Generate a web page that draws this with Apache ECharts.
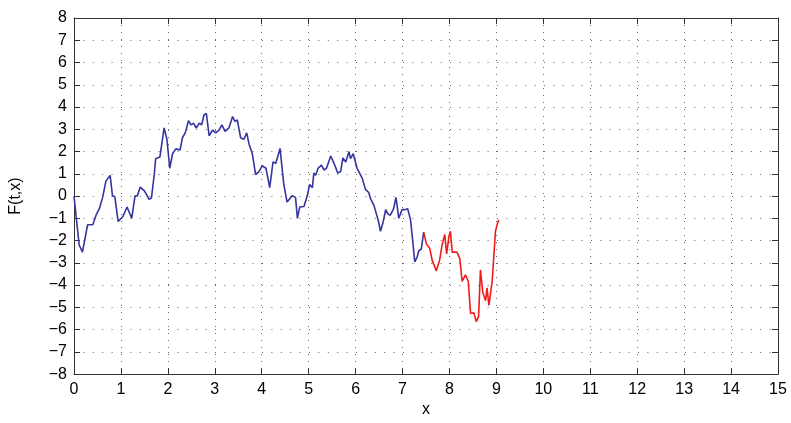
<!DOCTYPE html>
<html><head><meta charset="utf-8">
<script src="https://cdn.jsdelivr.net/npm/echarts@6/dist/echarts.min.js"></script>
<style>html,body{margin:0;padding:0;background:#fff}#c{width:791px;height:423px}</style>
</head><body><div id="c"></div>
<script>
const xBlue = [0.00,0.11,0.18,0.29,0.40,0.47,0.54,0.61,0.68,0.77,0.82,0.87,0.94,1.04,1.13,1.23,1.30,1.35,1.41,1.50,1.60,1.65,1.71,1.74,1.78,1.83,1.92,1.98,2.04,2.10,2.17,2.26,2.31,2.37,2.44,2.49,2.55,2.60,2.67,2.72,2.77,2.82,2.88,2.95,3.02,3.09,3.15,3.22,3.30,3.38,3.43,3.48,3.55,3.62,3.68,3.73,3.80,3.87,3.94,4.01,4.09,4.17,4.24,4.30,4.39,4.47,4.54,4.65,4.72,4.76,4.81,4.90,4.97,5.02,5.08,5.11,5.15,5.20,5.27,5.33,5.38,5.47,5.54,5.62,5.68,5.73,5.79,5.86,5.89,5.95,6.03,6.14,6.21,6.28,6.32,6.39,6.43,6.48,6.53,6.59,6.64,6.69,6.74,6.81,6.86,6.92,6.99,7.06,7.11,7.17,7.21,7.26,7.31,7.35,7.40,7.45];
const yBlue = [0.00,-2.20,-2.52,-1.29,-1.29,-0.86,-0.57,-0.06,0.67,0.93,0.01,-0.03,-1.14,-0.93,-0.49,-1.00,0.01,0.00,0.40,0.23,-0.15,-0.09,0.96,1.68,1.70,1.75,3.06,2.55,1.25,1.90,2.12,2.07,2.62,2.84,3.39,3.20,3.27,3.06,3.27,3.20,3.64,3.71,2.70,2.96,2.84,2.96,3.20,2.91,3.06,3.57,3.35,3.42,2.62,2.55,2.84,2.33,1.90,0.96,1.10,1.36,1.25,0.38,1.53,1.47,2.14,0.52,-0.27,0.01,-0.06,-1.00,-0.49,-0.47,0.01,0.52,0.38,1.03,0.93,1.25,1.39,1.17,1.25,1.80,1.47,1.03,1.10,1.71,1.53,2.00,1.68,1.90,1.25,0.81,0.30,0.16,-0.13,-0.42,-0.35,-1.07,-1.58,-1.14,-0.61,-0.81,-0.86,-0.57,-0.06,-1.00,-0.61,-0.61,-0.57,-1.07,-1.87,-2.96,-2.74,-2.45,-2.38,-1.62];
const xRed = [7.45,7.51,7.58,7.63,7.72,7.79,7.84,7.90,7.94,7.99,8.02,8.06,8.16,8.22,8.27,8.34,8.40,8.45,8.52,8.57,8.62,8.66,8.71,8.77,8.80,8.84,8.91,8.98,9.02,9.05];
const yRed = [-1.62,-2.16,-2.35,-2.88,-3.36,-2.88,-2.23,-1.73,-2.60,-1.80,-1.58,-2.52,-2.52,-2.81,-3.83,-3.54,-3.83,-5.28,-5.25,-5.64,-5.42,-3.32,-4.33,-4.70,-4.12,-4.91,-3.83,-1.58,-1.25,-1.07];
const xTicks = [0,15,1];
const yTicks = [-8,8,1];

const font = 'Liberation Sans, Arial, Helvetica, sans-serif';
const vGrid = {show:true, lineStyle:{color:'#666', type:[1,6], width:1}};
const hGrid = {show:true, lineStyle:{color:'#666', type:[1,8.4], width:1}};
const axLine = {show:true, onZero:false, lineStyle:{color:'#333', width:1}};
const tick = {show:true, inside:true, length:6, lineStyle:{color:'#333'}};
const chart = echarts.init(document.getElementById('c'));
chart.setOption({
  animation:false,
  grid:{left:73, right:13, top:18, bottom:37, containLabel:false},
  xAxis:[
    {type:'value', min:xTicks[0], max:xTicks[1], interval:xTicks[2], position:'bottom',
     name:'x', nameLocation:'middle', nameGap:27, nameTextStyle:{fontFamily:font, fontSize:16, color:'#000'},
     axisLine:axLine, axisTick:tick, splitLine:vGrid,
     axisLabel:{fontFamily:font, fontSize:16, color:'#000', margin:7}},
    {type:'value', min:xTicks[0], max:xTicks[1], interval:xTicks[2], position:'top',
     axisLine:axLine, axisTick:tick, splitLine:{show:false}, axisLabel:{show:false}}
  ],
  yAxis:[
    {type:'value', min:yTicks[0], max:yTicks[1], interval:yTicks[2], position:'left',
     name:'F(t,x)', nameLocation:'middle', nameGap:50, nameRotate:90, nameTextStyle:{fontFamily:font, fontSize:16, color:'#000'},
     axisLine:axLine, axisTick:tick, splitLine:hGrid,
     axisLabel:{fontFamily:font, fontSize:16, color:'#000', margin:7, formatter:v=>String(v).replace('-','\u2212')}},
    {type:'value', min:yTicks[0], max:yTicks[1], interval:yTicks[2], position:'right',
     axisLine:axLine, axisTick:tick, splitLine:{show:false}, axisLabel:{show:false}}
  ],
  series:[
    {type:'line', data:xBlue.map((x,i)=>[x,yBlue[i]]), showSymbol:false, symbol:'none',
     lineStyle:{color:'#3535a0', width:1.6}},
    {type:'line', data:xRed.map((x,i)=>[x,yRed[i]]), showSymbol:false, symbol:'none',
     lineStyle:{color:'#f01c1c', width:1.6}}
  ]
});
</script></body></html>
